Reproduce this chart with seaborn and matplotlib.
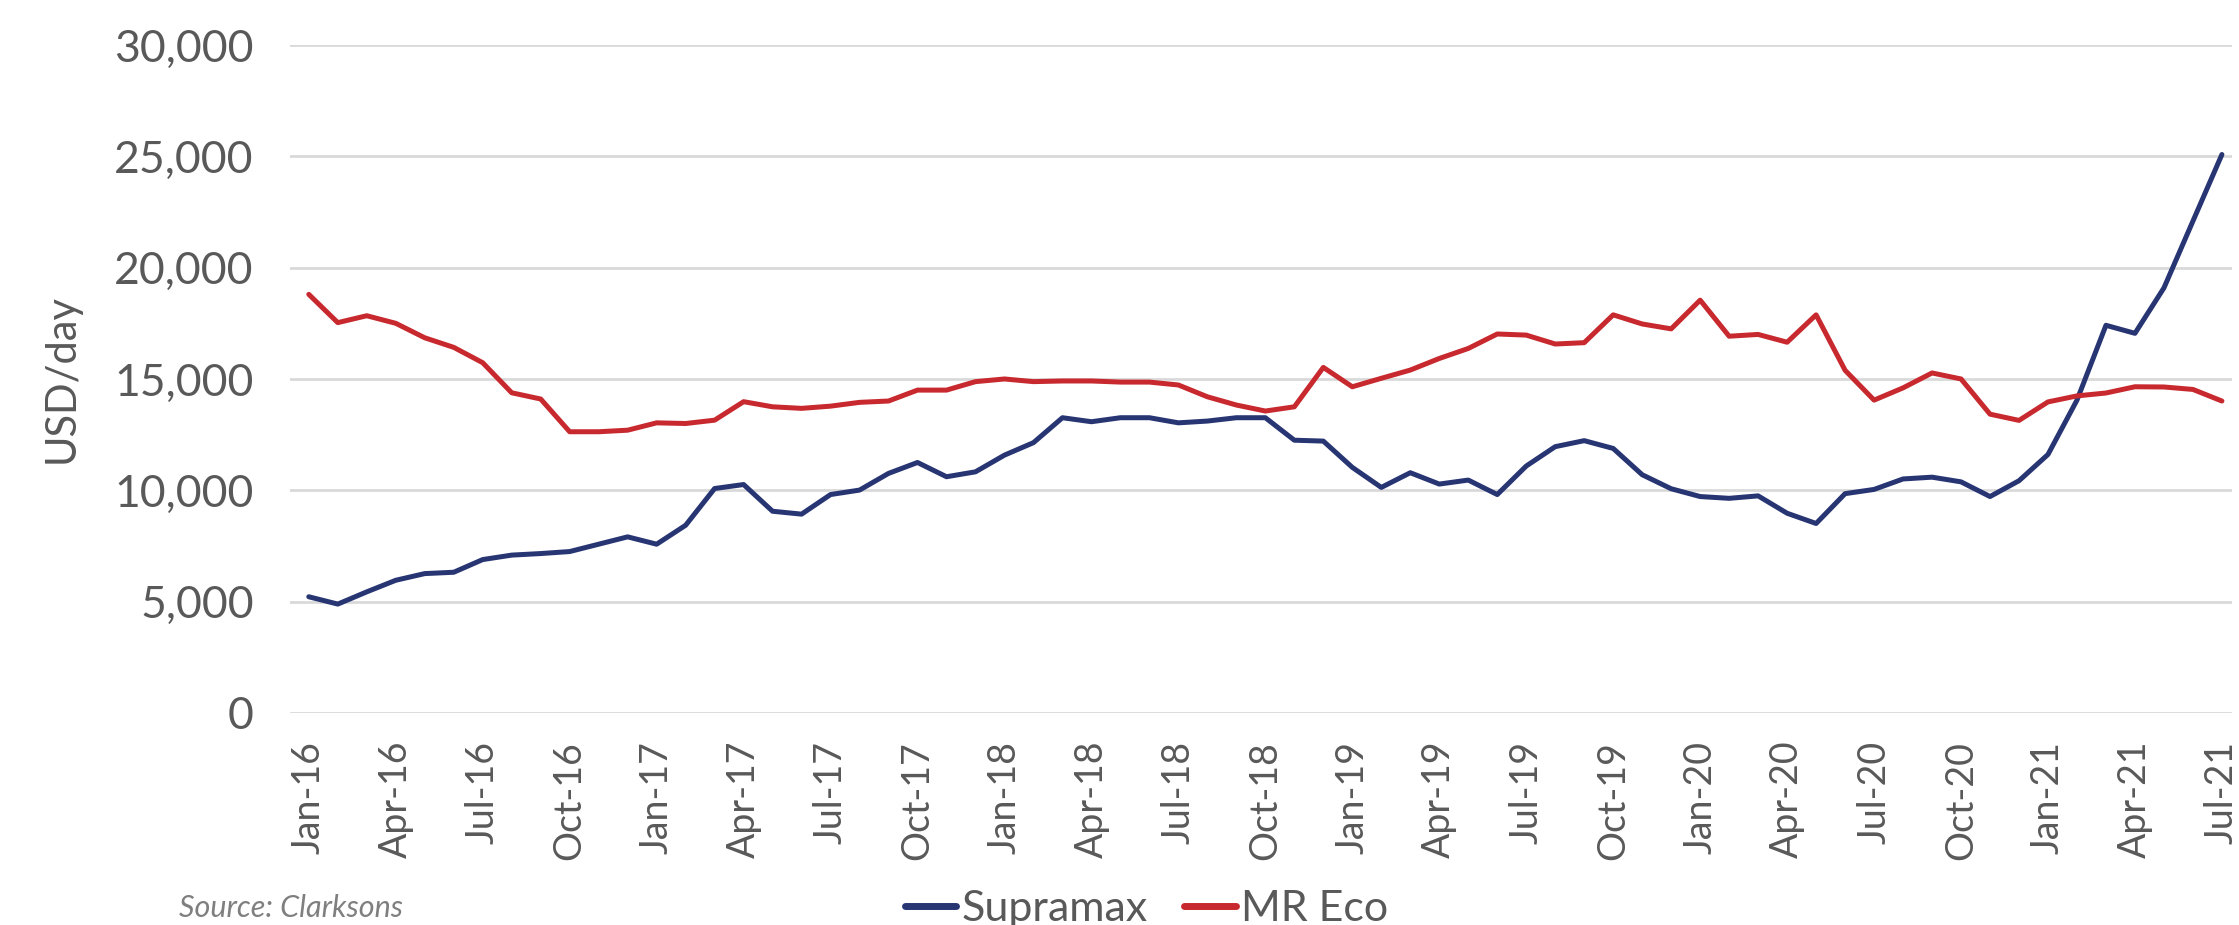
"""Supramax vs MR Eco 1yr time charter rates, monthly Jan-16 to Jul-21."""
import matplotlib

matplotlib.use("Agg")
import matplotlib.pyplot as plt  # noqa: E402
import pandas as pd  # noqa: E402
import seaborn as sns  # noqa: E402

MONTHS = pd.date_range("2016-01-01", "2021-07-01", freq="MS")

SUPRAMAX = [
    5220, 4890, 5440, 5960, 6260, 6320, 6890, 7090, 7160, 7250, 7580, 7910,
    7580, 8430, 10080, 10260, 9060, 8930, 9810, 10010, 10760, 11250, 10610, 10830,
    11580, 12140, 13260, 13080, 13260, 13260, 13030, 13110, 13260, 13260, 12250, 12210,
    11030, 10130, 10790, 10280, 10460, 9810, 11090, 11960, 12230, 11880, 10700, 10070,
    9720, 9640, 9750, 8970, 8510, 9850, 10040, 10510, 10590, 10380, 9720, 10430,
    11610, 14050, 17410, 17050, 19090, 22090, 25080,
]
MR_ECO = [
    18800, 17530, 17840, 17500, 16850, 16420, 15730, 14380, 14100, 12630, 12630, 12700,
    13030, 13000, 13150, 13980, 13750, 13680, 13780, 13950, 14010, 14500, 14500, 14880,
    15000, 14880, 14910, 14910, 14860, 14860, 14730, 14200, 13830, 13560, 13750, 15520,
    14650, 15030, 15400, 15920, 16370, 17020, 16970, 16570, 16630, 17880, 17470, 17250,
    18540, 16920, 17000, 16650, 17880, 15390, 14050, 14600, 15270, 15000, 13420, 13140,
    13970, 14240, 14370, 14650, 14640, 14530, 14010,
]
SERIES = ["Supramax", "MR Eco"]
COLORS = ["#283573", "#C8292E"]
Y_TICKS = [0, 5000, 10000, 15000, 20000, 25000, 30000]

GREY = "#595959"

sns.set_theme(style="white")
plt.rcParams["font.family"] = ["Lato", "DejaVu Sans"]

df = pd.DataFrame({
    "idx": list(range(len(MONTHS))) * 2,
    "value": SUPRAMAX + MR_ECO,
    "series": [SERIES[0]] * len(MONTHS) + [SERIES[1]] * len(MONTHS),
})

fig = plt.figure(figsize=(22.39, 9.25), dpi=100)
ax = fig.add_axes([0.1295, 0.2292, 0.8674, 0.7222])

sns.lineplot(data=df, x="idx", y="value", hue="series", hue_order=SERIES,
             palette=COLORS, linewidth=3.6, ax=ax, legend=False)

ax.set_xlim(-0.65, len(MONTHS) - 0.65)
ax.set_ylim(0, 30000)
ax.set_yticks(Y_TICKS)
ax.set_yticklabels([f"{v:,}" for v in Y_TICKS])
tick_idx = list(range(0, len(MONTHS), 3))
ax.set_xticks(tick_idx)
ax.set_xticklabels([MONTHS[i].strftime("%b-%y") for i in tick_idx], rotation=90)

ax.grid(axis="y", color="#D9D9D9", linewidth=2)
ax.set_axisbelow(True)
for s in ax.spines.values():
    s.set_visible(False)
ax.tick_params(axis="both", length=0, colors=GREY)
ax.tick_params(axis="y", labelsize=32, pad=26)
ax.tick_params(axis="x", labelsize=27, pad=20)
ax.set_xlabel("")
ax.set_ylabel("USD/day", fontsize=30, color=GREY, labelpad=24)

handles = [plt.Line2D([], [], color=c, linewidth=5) for c in COLORS]
fig.legend(handles, SERIES, loc="center", bbox_to_anchor=(0.512, 0.017), ncol=2,
           frameon=False, handlelength=1.2, handletextpad=0.12,
           columnspacing=0.85, labelcolor=GREY, borderpad=0.1,
           prop={"family": ["Lato", "DejaVu Sans"], "size": 31})

fig.text(0.08, 0.018, "Source: Clarksons", fontsize=22, style="italic", color="#7F7F7F",
         va="center", family=["Lato", "DejaVu Sans"])

fig.savefig("out.png", dpi=100)
